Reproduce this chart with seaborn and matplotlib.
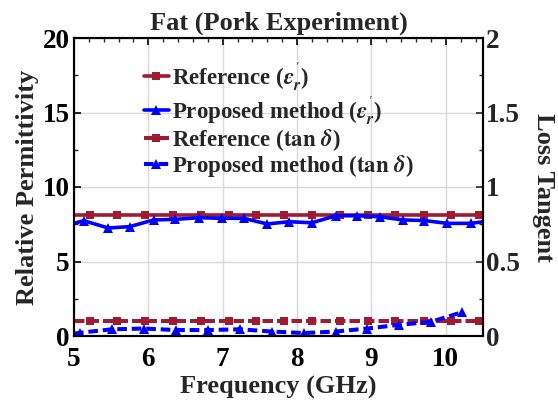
import numpy as np
import pandas as pd
import matplotlib
matplotlib.use("Agg")
import matplotlib.pyplot as plt
from matplotlib.ticker import MultipleLocator
import seaborn as sns

# ---- data ----
ref_x = [5.0, 5.21, 5.58, 5.96, 6.33, 6.71, 7.08, 7.45, 7.83, 8.20, 8.58, 8.95, 9.32, 9.70, 10.07, 10.45, 10.5]
ref_eps = [8.1] * len(ref_x)
ref_tan = [0.1] * len(ref_x)

prop_eps_x = [5.0, 5.13, 5.46, 5.75, 6.07, 6.36, 6.68, 6.99, 7.28, 7.60, 7.89, 8.20, 8.52, 8.81,
              9.12, 9.42, 9.71, 10.02, 10.34, 10.5]
prop_eps = [7.56, 7.74, 7.25, 7.34, 7.79, 7.83, 7.94, 7.90, 7.90, 7.52, 7.67, 7.60, 8.07, 8.07,
            8.00, 7.79, 7.75, 7.56, 7.56, 7.67]

prop_tan_x = [5.0, 5.08, 5.51, 5.94, 6.37, 6.80, 7.23, 7.66, 8.09, 8.52, 8.94, 9.37, 9.80, 10.22]
prop_tan = [0.015, 0.022, 0.045, 0.05, 0.04, 0.04, 0.045, 0.03, 0.02, 0.03, 0.05, 0.075, 0.095, 0.16]

x_ticks = [5, 6, 7, 8, 9, 10]
left_ticks = [0, 5, 10, 15, 20]
right_ticks = [0, 0.5, 1, 1.5, 2]
right_tick_labels = ["0", "0.5", "1", "1.5", "2"]

labels = [r"Reference ($\varepsilon_r^{'}$)", r"Proposed method ($\varepsilon_r^{'}$)",
          r"Reference ($\tan\,\delta$)", r"Proposed method ($\tan\,\delta$)"]

RED = "#9E1B32"
BLUE = "#0000FF"

sns.set_style("white")
plt.rcParams["font.family"] = ["Liberation Serif", "DejaVu Serif"]
plt.rcParams["font.weight"] = "bold"
plt.rcParams["mathtext.fontset"] = "stix"
plt.rcParams["xtick.direction"] = "in"
plt.rcParams["ytick.direction"] = "in"

fig = plt.figure(figsize=(5.58, 4.04), dpi=100)
ax = fig.add_axes([74 / 558, 1 - 336 / 404, (483 - 74) / 558, (336 - 38) / 404])
ax2 = ax.twinx()

df_ref = pd.DataFrame({"x": ref_x, "eps": ref_eps, "tan": ref_tan})
df_pe = pd.DataFrame({"x": prop_eps_x, "y": prop_eps})
df_pt = pd.DataFrame({"x": prop_tan_x, "y": prop_tan})

lw = 2.6
sns.lineplot(data=df_ref, x="x", y="eps", ax=ax, color=RED, lw=lw, marker="s", ms=6,
             markeredgewidth=0, markevery=slice(1, -1), sort=False, label=labels[0], legend=False)
sns.lineplot(data=df_pe, x="x", y="y", ax=ax, color=BLUE, lw=lw, marker="^", ms=7.5,
             markeredgewidth=0, markevery=slice(1, -1), sort=False, label=labels[1], legend=False)
sns.lineplot(data=df_ref, x="x", y="tan", ax=ax2, color=RED, lw=lw + 0.3, marker="s", ms=6,
             markeredgewidth=0, markevery=slice(1, -1), sort=False, dashes=False,
             linestyle=(0, (2.6, 1.0)), label=labels[2], legend=False)
sns.lineplot(data=df_pt, x="x", y="y", ax=ax2, color=BLUE, lw=lw + 0.3, marker="^", ms=7.5,
             markeredgewidth=0, markevery=slice(1, None), sort=False, dashes=False,
             linestyle=(0, (2.4, 1.2)), label=labels[3], legend=False)

ax.set_xlim(5, 10.5)
ax.set_ylim(0, 20)
ax2.set_ylim(0, 2)
ax.set_xticks(x_ticks)
ax.set_xticklabels([str(t) for t in x_ticks])
ax.set_yticks(left_ticks)
ax.set_yticklabels([str(t) for t in left_ticks])
ax2.set_yticks(right_ticks)
ax2.set_yticklabels(right_tick_labels)
ax.xaxis.set_minor_locator(MultipleLocator(0.2))
ax.yaxis.set_minor_locator(MultipleLocator(2.5))
ax2.yaxis.set_minor_locator(MultipleLocator(0.25))

ax.grid(True, which="major", color="#d9d9d9", lw=1.0)
ax.set_axisbelow(True)

tfs = 19.5
lfs = 19
ax.tick_params(axis="both", which="major", length=5, width=1.2, labelsize=tfs, pad=3,
               top=True, right=False, colors="black")
ax.tick_params(axis="both", which="minor", length=3, width=1.0, top=True, right=False)
ax.tick_params(axis="x", pad=8)
ax2.tick_params(axis="y", which="major", length=5, width=1.2, labelsize=tfs, pad=2)
ax2.tick_params(axis="y", which="minor", length=3, width=1.0)
for a in (ax, ax2):
    for s in a.spines.values():
        s.set_color("black")
        s.set_linewidth(1.5)
    for t in a.get_xticklabels() + a.get_yticklabels():
        t.set_fontweight("bold")

ax.set_xlabel("Frequency (GHz)", fontsize=lfs, fontweight="bold", labelpad=3)
ax.set_ylabel("Relative Permittivity", fontsize=lfs, fontweight="bold", labelpad=3)
ax2.set_ylabel("Loss Tangent", fontsize=lfs, fontweight="bold", rotation=270, labelpad=25)
ax.set_title("Fat (Pork Experiment)", fontsize=lfs, fontweight="bold", pad=6)

h1, l1 = ax.get_legend_handles_labels()
h2, l2 = ax2.get_legend_handles_labels()
leg = ax2.legend(h1 + h2, l1 + l2, loc="upper left", bbox_to_anchor=(0.148, 0.96),
                 frameon=False, fontsize=16.5, handlelength=1.1, handletextpad=0.12,
                 labelspacing=0.0, borderaxespad=0)
for t in leg.get_texts():
    t.set_fontweight("bold")

fig.savefig("out.png", dpi=100)
